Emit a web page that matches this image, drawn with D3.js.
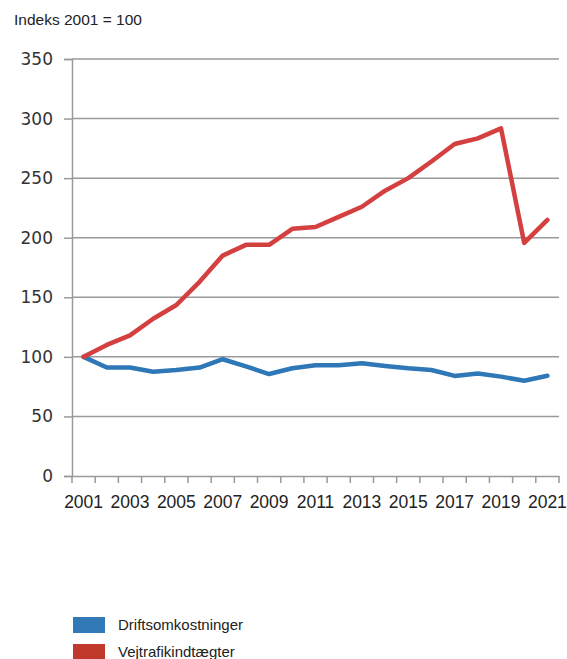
<!DOCTYPE html>
<html>
<head>
<meta charset="utf-8">
<script src="https://cdn.jsdelivr.net/npm/d3@7"></script>
<style>
  html, body { margin: 0; padding: 0; background: #fff; }
  svg { display: block; }
</style>
</head>
<body>
<script>
const years = d3.range(2001, 2022);
const tickYears = [2001, 2003, 2005, 2007, 2009, 2011, 2013, 2015, 2017, 2019, 2021];
const yTicks = [0, 50, 100, 150, 200, 250, 300, 350];
const seriesNames = ["Driftsomkostninger", "Vejtrafikindtægter"];
const drift = [100, 91, 91, 87.5, 89, 91, 98, 92, 85.6, 90.4, 93, 93, 94.6, 92.3, 90.4, 89, 84, 86, 83.4, 80, 84.2];
const vej = [100, 110, 118, 132, 143.5, 163, 185, 194, 194, 207.5, 209, 217.5, 226, 239.5, 250, 264, 278.7, 283.4, 291.8, 195.6, 214.9];
const lineColors = ["#2f78b7", "#d43f3f"];
const legendColors = ["#3279b8", "#c0392b"];

const W = 567, H = 659;
const svg = d3.select("body").append("svg").attr("width", W).attr("height", H);

const x = d3.scaleBand().domain(years).range([72, 559]);
const y = d3.scaleLinear().domain([0, 350]).range([476, 59]);

// title
svg.append("text").attr("x", 14).attr("y", 25)
  .attr("font-family", "Liberation Sans, Arial, sans-serif").attr("font-size", 15.5)
  .attr("fill", "#222").text("Indeks 2001 = 100");

// gridlines
svg.append("g").selectAll("line").data(yTicks.filter(d => d > 0)).join("line")
  .attr("x1", 72).attr("x2", 559).attr("y1", d => y(d)).attr("y2", d => y(d))
  .attr("stroke", "#9a9a9a").attr("stroke-width", 1.5);

// y axis
const yAxis = svg.append("g").attr("transform", "translate(72,0)")
  .call(d3.axisLeft(y).tickValues(yTicks).tickSize(8).tickPadding(11));
yAxis.select(".domain").attr("stroke", "#9a9a9a").attr("stroke-width", 1.5);
yAxis.selectAll(".tick line").attr("stroke", "#9a9a9a").attr("stroke-width", 1.5);
yAxis.selectAll(".tick text").attr("font-family", "DejaVu Sans, sans-serif").attr("font-size", 17).attr("fill", "#333");

// x axis
const xAxis = svg.append("g").attr("transform", "translate(0,476)")
  .call(d3.axisBottom(x).tickValues([]).tickSizeOuter(0));
xAxis.select(".domain").attr("stroke", "#9a9a9a").attr("stroke-width", 1.5);
const edges = d3.range(years.length + 1).map(i => 72 + i * x.step());
xAxis.selectAll("line.edge").data(edges).join("line").attr("class", "edge")
  .attr("x1", d => d).attr("x2", d => d).attr("y1", 0).attr("y2", 7)
  .attr("stroke", "#9a9a9a").attr("stroke-width", 1.5);
xAxis.selectAll("text.lbl").data(tickYears).join("text").attr("class", "lbl")
  .attr("x", d => x(d) + x.bandwidth() / 2).attr("y", 32)
  .attr("text-anchor", "middle")
  .attr("font-family", "Liberation Sans, Arial, sans-serif").attr("font-size", 17.5)
  .attr("fill", "#222").text(d => d);

// lines
const line = d3.line().x((d, i) => x(years[i]) + x.bandwidth() / 2).y(d => y(d));
[drift, vej].forEach((s, k) => {
  svg.append("path").datum(s).attr("d", line)
    .attr("fill", "none").attr("stroke", lineColors[k]).attr("stroke-width", 4.5)
    .attr("stroke-linejoin", "round").attr("stroke-linecap", "round");
});

// legend
const lg = svg.append("g");
seriesNames.forEach((n, i) => {
  const yy = 617 + i * 27;
  lg.append("rect").attr("x", 73).attr("y", yy).attr("width", 32).attr("height", 16).attr("fill", legendColors[i]);
  lg.append("text").attr("x", 118).attr("y", yy + 13)
    .attr("font-family", "Liberation Sans, Arial, sans-serif").attr("font-size", 15)
    .attr("fill", "#222").text(n);
});
</script>
</body>
</html>
